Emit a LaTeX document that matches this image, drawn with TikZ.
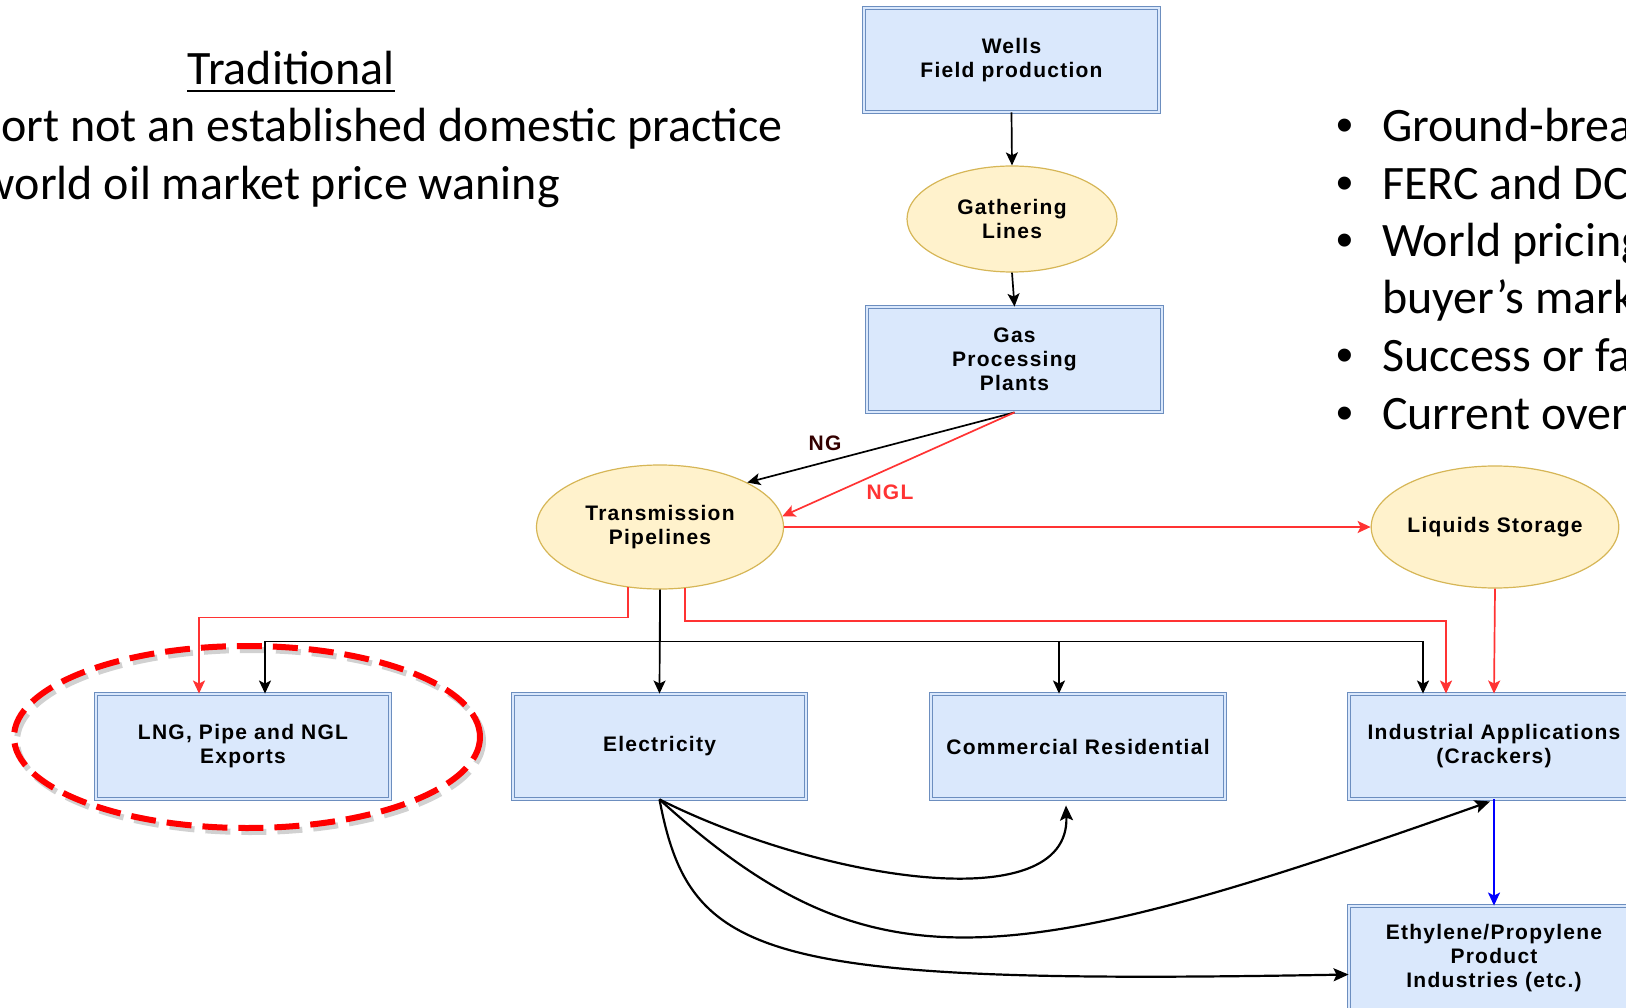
\documentclass[tikz,border=0pt]{standalone}
\usepackage{fontspec}
\setmainfont{Carlito}
\newfontfamily\boxfont[LetterSpace=6]{Liberation Sans}
\newfontfamily\bulletfont{Liberation Sans}
\usepackage{tikz}
\usetikzlibrary{shapes.geometric,arrows.meta}
\definecolor{DrawioBoxFill}{HTML}{DAE8FC}
\definecolor{DrawioBoxLine}{HTML}{6C8EBF}
\definecolor{DrawioOvalFill}{HTML}{FFF2CC}
\definecolor{DrawioOvalLine}{HTML}{D6B656}
\definecolor{DrawioRed}{HTML}{FF3333}
\definecolor{DrawioNG}{HTML}{330000}

\begin{document}
\begin{tikzpicture}[x=1pt,y=-1pt,
box/.style n args={2}{rectangle,draw=DrawioBoxLine,line width=0.9pt,double=DrawioBoxFill,double distance=2pt,fill=DrawioBoxFill,minimum width=#1pt,minimum height=#2pt,inner sep=0pt,align=center,font=\boxfont\bfseries\fontsize{21}{24}\selectfont},
oval/.style n args={2}{ellipse,draw=DrawioOvalLine,line width=1.2pt,fill=DrawioOvalFill,minimum width=#1pt,minimum height=#2pt,inner sep=0pt,align=center,font=\boxfont\bfseries\fontsize{21}{24}\selectfont},
arr/.style={line width=1.7pt,-{Stealth[length=13pt,width=12pt,inset=3pt]}},
redarr/.style={arr,DrawioRed},
bluearr/.style={arr,blue},
curvearr/.style={line width=2.2pt,-{Stealth[length=15pt,width=13pt,inset=3pt]}},
lbl/.style={font=\boxfont\bfseries\fontsize{21}{24}\selectfont,inner sep=0pt},
bigtxt/.style={font=\fontsize{48}{58}\selectfont,inner sep=0pt},
hilite/.style={ellipse,draw=red,line width=6pt,dash pattern=on 25pt off 11pt,minimum width=466pt,minimum height=182pt,inner sep=0pt}]
\useasboundingbox (0,0) rectangle (1626,1008);

\node[bigtxt,anchor=base] (trad) at (291,85) {Traditional};
\draw[line width=2.5pt] ([yshift=-6pt]trad.base west) -- ([yshift=-6pt]trad.base east);
\node[bigtxt,anchor=base east] (exp) at (783,142) {ort not an established domestic practice};
\node[bigtxt,anchor=base east] (oil) at (560,200) {world oil market price waning};

\foreach \n/\y in {1/142,2/200,3/257,5/372,6/429}
   \node[bigtxt,anchor=base,font=\bulletfont\fontsize{48}{58}\selectfont] (bul\n) at (1345,\y) {•};
\foreach \n/\y/\t in {1/142/Ground-brea,2/200/FERC and DC,3/257/World pricing,4/314/buyer’s mark,5/372/Success or fa,6/429/Current over}
   \node[bigtxt,anchor=base west] (pt\n) at (1382,\y) {\t};

\node[box={295}{104}] (wells) at (1011.5,60) {Wells\\Field production};
\node[oval={210}{106}] (gather) at (1012,219) {Gathering\\Lines};
\node[box={295}{105}] (gas) at (1014.5,359.5) {Gas\\Processing\\Plants};
\node[oval={247}{124}] (trans) at (660,527) {Transmission\\Pipelines};
\node[oval={246}{122}] (liquids) at (1495,527) {Liquids Storage};
\node[box={294}{105}] (lng) at (243,746.5) {LNG, Pipe and NGL\\Exports};
\node[box={293}{105}] (elec) at (659.5,746.5) {Electricity};
\node[box={294}{105}] (comres) at (1078,746.5) {Commercial Residential};
\node[box={290}{105}] (indus) at (1494,746.5) {Industrial Applications\\(Crackers)};
\node[box={290}{105}] (ethyl) at (1494,958.5) {Ethylene/Propylene\\Product\\Industries (etc.)};

\node[hilite,draw=black!45,opacity=0.4] (hlshadow) at (250,741) {};
\node[hilite] (hl) at (247,737) {};

\node[lbl,text=DrawioNG] (nglbl) at (825,443) {NG};
\node[lbl,text=DrawioRed] (ngllbl) at (890,492) {NGL};

\draw[arr] (wells.south) -- (gather.north);
\draw[arr] (gather.south) -- (gas.north);
\draw[arr] (gas.south) -- (trans.27);
\draw[redarr] (gas.south) -- (trans.5);
\draw[redarr] (trans.east) -- (liquids.west);
\draw[redarr] (trans.242) -- ++(0,30) -| ([xshift=-44pt]lng.north);
\draw[arr] (trans.south) -- ++(0,52) -| ([xshift=22pt]lng.north);
\draw[arr] (trans.south) -- (elec.north);
\draw[arr] (trans.south) -- ++(0,52) -| ([xshift=-19pt]comres.north);
\draw[arr] (trans.south) -- ++(0,52) -| ([xshift=-71pt]indus.north);
\draw[redarr] (trans.292) -- ++(0,33) -| ([xshift=-48pt]indus.north);
\draw[redarr] (liquids.south) -- (indus.north);
\draw[bluearr] (indus.south) -- (ethyl.north);

\draw[curvearr] (elec.south) .. controls (820,880) and (1070,920) .. ([xshift=-12pt,yshift=-6pt]comres.south);
\draw[curvearr] (elec.south) .. controls (870,990) and (1000,975) .. ([xshift=-4pt,yshift=-2pt]indus.south);
\draw[curvearr] (elec.south) .. controls (690,960) and (760,985) .. ([yshift=-16pt]ethyl.west);
\end{tikzpicture}
\end{document}
